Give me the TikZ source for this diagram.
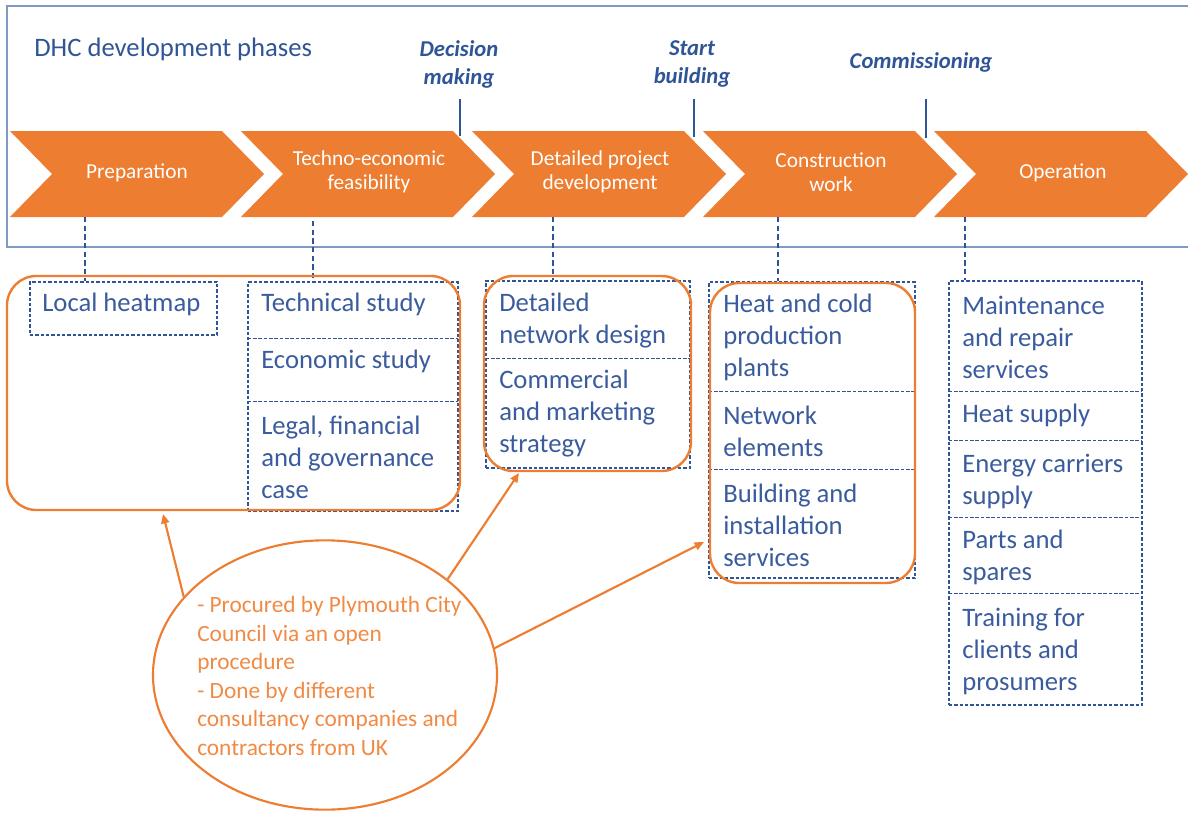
\documentclass[tikz,border=0pt]{standalone}
\usepackage{fontspec}
\setmainfont{Carlito}
\usetikzlibrary{shapes.geometric,fit,arrows.meta}
\definecolor{dhcorange}{HTML}{ED7D31}
\definecolor{dhcblue}{HTML}{2F5597}
\definecolor{dhctext}{HTML}{3A5C9E}
\definecolor{dhcframe}{HTML}{7F9BC0}
\definecolor{dhcelltext}{HTML}{F08A45}
\begin{document}
\begin{tikzpicture}[x=0.75pt,y=-0.75pt,
  chev/.style={fill=dhcorange, draw=none},
  chevtext/.style={text=white, font=\fontsize{16}{18}\selectfont, align=center, inner sep=0},
  frameline/.style={draw=dhcframe, line width=1.3pt},
  mstext/.style={text=dhcblue, font=\fontsize{17}{21}\selectfont\bfseries\itshape, align=center, inner sep=0},
  msline/.style={draw=dhcblue, line width=2.2pt},
  dline/.style={draw=dhcblue, dash pattern=on 2.6pt off 1.4pt, line width=1pt},
  dbox/.style={dline, inner sep=0},
  cell/.style={inner sep=0},
  dconn/.style={draw=dhcblue, dash pattern=on 4pt off 2.5pt, line width=1.6pt},
  boxtext/.style={text=dhctext, font=\fontsize{20}{24}\selectfont, align=left, inner sep=0, anchor=west},
  obox/.style={draw=dhcorange, line width=1.8pt, inner sep=0, rounded corners=22pt},
  oarrow/.style={draw=dhcorange, line width=1.6pt, -{Triangle[length=7pt,width=6pt]}},
  ]
\useasboundingbox (0,0) rectangle (1188,814);

% outer frame
\draw[frameline] (1195,6) -- (7,6) -- (7,247) -- (1195,247);
\node[text=dhcblue, font=\fontsize{20}{24}\selectfont, anchor=west, inner sep=0] (title) at (34,49) {DHC development phases};

% chevrons
\foreach \x in {10,241,472,703,934}{
  \fill[chev] (\x,131) -- (\x+212,131) -- (\x+254,174) -- (\x+212,217) -- (\x,217) -- (\x+42,174) -- cycle;
}
\node[chevtext] (c1) at (137,173) {Preparation};
\node[chevtext] (c2) at (369,172) {Techno-economic\\feasibility};
\node[chevtext] (c3) at (600,172) {Detailed project\\development};
\node[chevtext] (c4) at (831,172) {Construction\\work};
\node[chevtext] (c5) at (1063,173) {Operation};

% milestones
\node[mstext] (m1) at (459,64) {Decision\\making};
\node[mstext] (m2) at (692,64) {Start\\building};
\node[mstext] (m3) at (921,62) {Commissioning};
\coordinate (m1a) at (460,99);  \coordinate (m1b) at (460,136);
\coordinate (m2a) at (694,99);  \coordinate (m2b) at (694,137);
\coordinate (m3a) at (926,99);  \coordinate (m3b) at (926,138);
\draw[msline] (m1a) -- (m1b);
\draw[msline] (m2a) -- (m2b);
\draw[msline] (m3a) -- (m3b);

% dashed columns (outer boxes)
\node[dbox, fit={(30,282) (217,335)}] (b1) {};
\node[dbox, fit={(248,282) (458,511)}] (b2) {};
\node[dbox, fit={(486,281) (690,468)}] (b3) {};
\node[dbox, fit={(709,282) (915,578)}] (b4) {};
\node[dbox, fit={(949,281) (1142,705)}] (b5) {};

% cells
\node[cell, fit={(248,282) (458,338)}] (b21) {};
\node[cell, fit={(248,338) (458,401)}] (b22) {};
\node[cell, fit={(248,401) (458,511)}] (b23) {};
\node[cell, fit={(486,281) (690,358)}] (b31) {};
\node[cell, fit={(486,358) (690,468)}] (b32) {};
\node[cell, fit={(709,282) (915,391)}] (b41) {};
\node[cell, fit={(709,391) (915,469)}] (b42) {};
\node[cell, fit={(709,469) (915,578)}] (b43) {};
\node[cell, fit={(949,281) (1142,391)}] (b51) {};
\node[cell, fit={(949,391) (1142,440)}] (b52) {};
\node[cell, fit={(949,440) (1142,517)}] (b53) {};
\node[cell, fit={(949,517) (1142,593)}] (b54) {};
\node[cell, fit={(949,593) (1142,705)}] (b55) {};

% dividers
\foreach \c in {b21,b22,b31,b41,b42,b51,b52,b53,b54}{
  \draw[dline] (\c.south west) -- (\c.south east);
}

% box texts
\node[boxtext] (t11) at (42,304) {Local heatmap};
\node[boxtext] (t21) at (261,304) {Technical study};
\node[boxtext] (t22) at (261,361) {Economic study};
\node[boxtext] (t23) at (261,457) {Legal, financial\\and governance\\case};
\node[boxtext] (t31) at (499,321) {Detailed\\network design};
\node[boxtext] (t32) at (499,414) {Commercial\\and marketing\\strategy};
\node[boxtext] (t41) at (723,337) {Heat and cold\\production\\plants};
\node[boxtext] (t42) at (723,431) {Network\\elements};
\node[boxtext] (t43) at (723,525) {Building and\\installation\\services};
\node[boxtext] (t51) at (962,337) {Maintenance\\and repair\\services};
\node[boxtext] (t52) at (962,415) {Heat supply};
\node[boxtext] (t53) at (962,481) {Energy carriers\\supply};
\node[boxtext] (t54) at (962,557) {Parts and\\spares};
\node[boxtext] (t55) at (962,651) {Training for\\clients and\\prosumers};

% dashed connectors from phases
\coordinate (d1) at (85,217);
\coordinate (d2) at (313,221);
\coordinate (d3) at (553,217);
\coordinate (d4) at (778,217);
\coordinate (d5) at (965,217);
\draw[dconn] (d1) -- (d1 |- b1.north);
\draw[dconn] (d2) -- (d2 |- b2.north);
\draw[dconn] (d3) -- (d3 |- b3.north);
\draw[dconn] (d4) -- (d4 |- b4.north);
\draw[dconn] (d5) -- (d5 |- b5.north);

% orange groups
\node[obox, fit={(7,276) (460,510)}] (g1) {};
\node[obox, fit={(484,276) (691,471)}] (g2) {};
\node[obox, fit={(710,283) (915,583)}] (g3) {};

% ellipse
\node[ellipse, draw=dhcorange, line width=1.6pt, minimum width=258pt, minimum height=202pt, inner sep=0] (ell) at (325,675) {};
\node[text=dhcelltext, font=\fontsize{17.5}{21.4}\selectfont, align=left, anchor=west, inner sep=0] (elltxt) at (197,676)
  {- Procured by Plymouth City\\Council via an open\\procedure\\- Done by different\\consultancy companies and\\contractors from UK};

\coordinate (a1) at (163,514);
\coordinate (a2) at (519,473);
\coordinate (a3) at (704,542);
\draw[oarrow] (ell.151) -- (a1);
\draw[oarrow] (ell.38) -- (a2);
\draw[oarrow] (ell.9) -- (a3);
\end{tikzpicture}
\end{document}
